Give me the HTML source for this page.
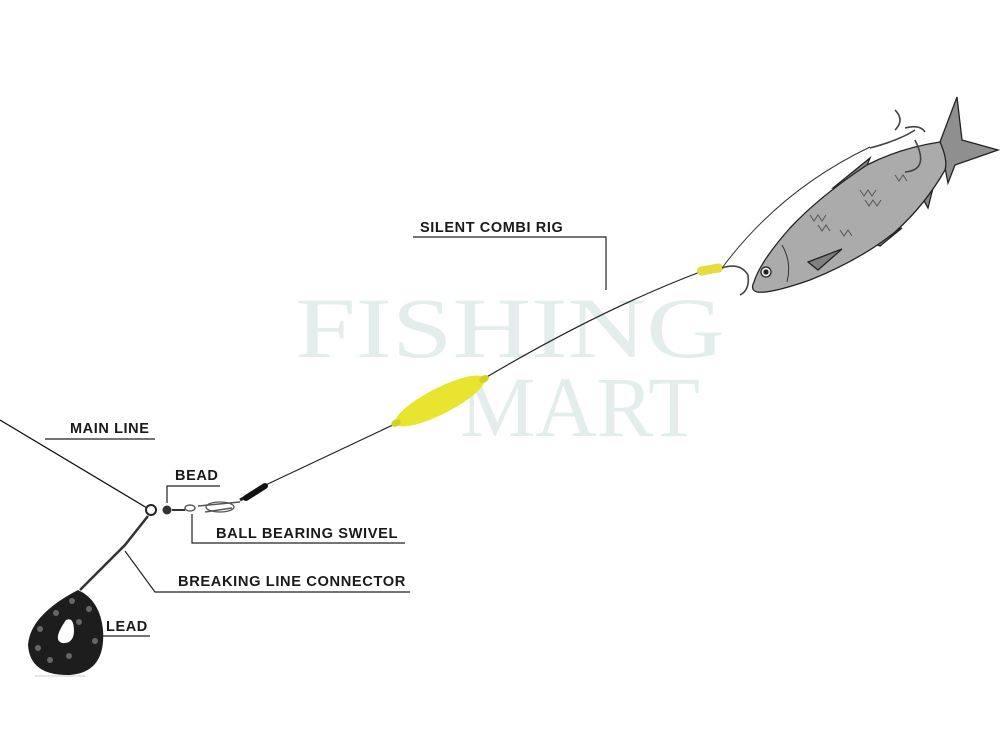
<!DOCTYPE html>
<html><head><meta charset="utf-8"><style>
html,body{margin:0;padding:0;background:#fff;}
svg{display:block}
.l{font-family:"Liberation Sans",sans-serif;font-weight:bold;font-size:14.5px;fill:#1a1a1a;letter-spacing:0.6px}
.w{font-family:"Liberation Serif",serif;font-size:86px;fill:#e3eeec}
</style></head><body>
<svg width="1000" height="750" viewBox="0 0 1000 750" xmlns="http://www.w3.org/2000/svg">
<text class="w" x="295" y="357" textLength="430" lengthAdjust="spacingAndGlyphs">FISHING</text>
<text class="w" x="460" y="436" textLength="240" lengthAdjust="spacingAndGlyphs">MART</text>

<line x1="0" y1="420" x2="147" y2="508" stroke="#111" stroke-width="1.3"/>
<polyline points="255,490 395,424" fill="none" stroke="#222" stroke-width="1.2"/>
<path d="M485,378 Q600,310 700,272" fill="none" stroke="#222" stroke-width="1.2"/>
<path d="M722,268 Q780,190 870,147" fill="none" stroke="#333" stroke-width="1"/>
<ellipse cx="440" cy="401" rx="50" ry="13" fill="#e8e430" transform="rotate(-27 440 401)"/>
<ellipse cx="396" cy="423" rx="5" ry="3.5" fill="#d8d020" transform="rotate(-27 396 423)"/>
<ellipse cx="484" cy="379" rx="5" ry="3.5" fill="#d8d020" transform="rotate(-27 484 379)"/>
<rect x="697" y="265" width="26" height="9" rx="4" fill="#e6dc40" transform="rotate(-10 710 270)"/>

<!-- fish -->
<g stroke="#222" stroke-width="1.3">
<path d="M940,142 L957,97 L962,140 L998,150 L955,165 L948,183 Z" fill="#8f8f8f"/>
<path d="M833,188 L870,158 L858,188 Z" fill="#888"/>
<path d="M918,190 L935,180 L928,208 Z" fill="#888"/>
<path d="M870,242 L902,228 L880,246 Z" fill="#888"/>
<path d="M754,282 Q760,262 790,228 Q820,196 867,165 Q900,148 940,142 Q948,160 945,170 Q925,205 895,232 Q860,260 810,280 Q770,294 757,292 Q750,290 754,282 Z" fill="#ababab"/>
<path d="M808,262 L842,249 L818,270 Z" fill="#808080"/>
<circle cx="766" cy="272" r="5" fill="#eee"/>
<circle cx="766" cy="272" r="2" fill="#222"/>
</g>
<path d="M782,245 Q792,262 787,282" fill="none" stroke="#333" stroke-width="1"/>
<g fill="none" stroke="#555" stroke-width="1">
<path d="M810,215 l4,6 l4,-6 l4,6 l4,-6 M818,225 l4,6 l4,-6 l4,6"/>
<path d="M860,190 l4,6 l4,-6 l4,6 l4,-6 M865,200 l4,6 l4,-6 l4,6 l4,-6"/>
<path d="M840,230 l4,6 l4,-6 l4,6 M895,175 l4,6 l4,-6 l4,6"/>
</g>
<g fill="none" stroke="#444" stroke-width="1.6">
<path d="M722,268 Q740,262 748,275 Q750,290 740,295"/>
<path d="M870,148 Q900,140 915,130 M905,128 Q920,124 925,132 M895,130 Q905,120 895,110 M915,140 Q930,170 905,172"/>
</g>

<circle cx="151" cy="510" r="5" fill="none" stroke="#222" stroke-width="2"/>
<circle cx="167" cy="510" r="4.5" fill="#333"/>
<path d="M172,510 L185,510" stroke="#333" stroke-width="2"/>
<ellipse cx="190" cy="508" rx="5" ry="3" fill="none" stroke="#444" stroke-width="1.3"/>
<path d="M198,506 L240,502 M205,512 L232,508" stroke="#555" stroke-width="1.4"/>
<ellipse cx="220" cy="507" rx="14" ry="5" fill="none" stroke="#555" stroke-width="1.3"/>
<path d="M240,500 L255,492" stroke="#222" stroke-width="3"/>
<path d="M246,498 L265,486" stroke="#111" stroke-width="6" stroke-linecap="round"/>
<path d="M148,516 L125,545 L110,560 L80,590" stroke="#333" stroke-width="2.5" fill="none"/>
<!-- lead -->
<path d="M78,590 Q100,600 103,630 Q106,672 70,675 Q30,676 28,645 Q30,615 78,590 Z" fill="#1d1d1d"/>
<path d="M66,620 Q74,616 74,632 Q73,644 62,643 Q52,640 66,620 Z" fill="#fff"/>
<g fill="#666"><circle cx="72" cy="601" r="3"/><circle cx="89" cy="609" r="3"/><circle cx="56" cy="613" r="3"/><circle cx="40" cy="629" r="3"/><circle cx="79" cy="622" r="3"/><circle cx="95" cy="641" r="3"/><circle cx="38" cy="648" r="3"/><circle cx="69" cy="656" r="3"/><circle cx="50" cy="660" r="3"/></g>
<line x1="35" y1="676" x2="85" y2="676" stroke="#ccc" stroke-width="1"/>

<g stroke="#222" stroke-width="1.2" fill="none">
<polyline points="413,237 606,237 606,290"/>
<line x1="45" y1="439" x2="155" y2="439"/>
<polyline points="220,486 167,486 167,503"/>
<polyline points="192,514 192,543 405,543"/>
<polyline points="125,551 155,592 410,592"/>
<line x1="93" y1="636" x2="150" y2="636"/>
</g>
<text class="l" x="420" y="232">SILENT COMBI RIG</text>
<text class="l" x="70" y="433">MAIN LINE</text>
<text class="l" x="175" y="480">BEAD</text>
<text class="l" x="216" y="538" textLength="182" lengthAdjust="spacingAndGlyphs">BALL BEARING SWIVEL</text>
<text class="l" x="178" y="586" textLength="228" lengthAdjust="spacingAndGlyphs">BREAKING LINE CONNECTOR</text>
<text class="l" x="106" y="631">LEAD</text>
</svg>
</body></html>
